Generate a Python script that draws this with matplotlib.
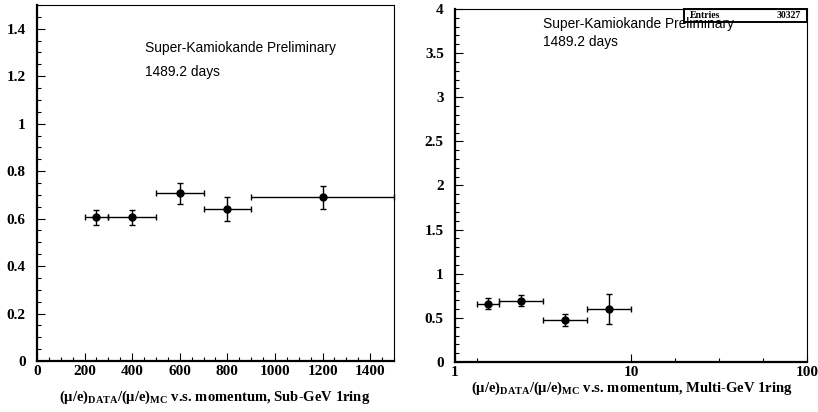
import numpy as np
import matplotlib.pyplot as plt
from matplotlib.ticker import MultipleLocator, FixedLocator, NullFormatter

plt.rcParams['font.family'] = 'Liberation Serif'
plt.rcParams['font.weight'] = 'bold'
plt.rcParams['mathtext.fontset'] = 'custom'
plt.rcParams['mathtext.rm'] = 'Liberation Serif:bold'
plt.rcParams['mathtext.it'] = 'Liberation Serif:bold'
plt.rcParams['mathtext.bf'] = 'Liberation Serif:bold'

# Sub-GeV 1ring (momentum in MeV/c)
sub_x = [250, 400, 600, 800, 1200]
sub_lo = [200, 300, 500, 700, 900]
sub_hi = [300, 500, 700, 900, 1500]
sub_y = [0.605, 0.605, 0.707, 0.639, 0.689]
sub_err = [0.033, 0.030, 0.044, 0.050, 0.049]

# Multi-GeV 1ring (momentum in GeV/c)
mul_x = [1.54, 2.37, 4.22, 7.5]
mul_lo = [1.33, 1.78, 3.16, 5.62]
mul_hi = [1.78, 3.16, 5.62, 10.0]
mul_y = [0.658, 0.696, 0.477, 0.598]
mul_err = [0.062, 0.058, 0.066, 0.168]

entries = 30327

fig = plt.figure(figsize=(8.18, 4.12), dpi=100)
ax1 = fig.add_axes([0.0452, 0.1238, 0.4364, 0.864])
ax2 = fig.add_axes([0.5562, 0.1214, 0.4309, 0.8568])


def style(ax):
    for s in ['top', 'right']:
        ax.spines[s].set_linewidth(0.8)
    for s in ['left', 'bottom']:
        ax.spines[s].set_linewidth(1.6)
    ax.tick_params(which='both', direction='in', top=False, right=False, width=0.8,
                   labelsize=11)
    ax.tick_params(which='major', length=6)
    ax.tick_params(which='minor', length=3)
    ax.tick_params(axis='y', pad=8)
    ax.tick_params(axis='x', pad=3)
    ax.xaxis.set_minor_formatter(NullFormatter())


def draw(ax, x, lo, hi, y, err):
    xerr = [np.array(x) - np.array(lo), np.array(hi) - np.array(x)]
    ax.errorbar(x, y, xerr=xerr, yerr=err, fmt='o', color='black', ms=5,
                elinewidth=1.0, capsize=2.5, capthick=1.0, clip_on=False)


draw(ax1, sub_x, sub_lo, sub_hi, sub_y, sub_err)
ax1.set_xlim(0, 1500)
ax1.set_ylim(0, 1.5)
ax1.xaxis.set_major_locator(MultipleLocator(200))
ax1.xaxis.set_minor_locator(MultipleLocator(50))
ax1.yaxis.set_major_locator(FixedLocator([0, 0.2, 0.4, 0.6, 0.8, 1.0, 1.2, 1.4]))
ax1.yaxis.set_minor_locator(MultipleLocator(0.05))
ax1.set_yticklabels(['0', '0.2', '0.4', '0.6', '0.8', '1', '1.2', '1.4'])
style(ax1)
ax1.text(0.302, 0.879, 'Super-Kamiokande Preliminary', transform=ax1.transAxes,
         family='Liberation Sans', weight='normal', fontsize=9.9, va='center')
ax1.text(0.302, 0.812, '1489.2 days', transform=ax1.transAxes,
         family='Liberation Sans', weight='normal', fontsize=9.9, va='center')
fig.text(0.262, 0.036, r'$(\mu/e)_{DATA}/(\mu/e)_{MC}$' + ' v.s. momentum, Sub-GeV 1ring',
         fontsize=10.5, ha='center', va='center')

draw(ax2, mul_x, mul_lo, mul_hi, mul_y, mul_err)
ax2.set_xscale('log')
ax2.set_xlim(1, 100)
ax2.set_ylim(0, 4)
ax2.xaxis.set_major_locator(FixedLocator([1, 10, 100]))
ax2.xaxis.set_minor_locator(FixedLocator([1.33, 17.8, 31.6, 56.2]))
ax2.set_xticklabels(['1', '10', '100'])
ax2.yaxis.set_major_locator(FixedLocator([0, 0.5, 1, 1.5, 2, 2.5, 3, 3.5, 4]))
ax2.yaxis.set_minor_locator(MultipleLocator(0.1))
ax2.set_yticklabels(['0', '0.5', '1', '1.5', '2', '2.5', '3', '3.5', '4'])
style(ax2)
ax2.text(0.25, 0.957, 'Super-Kamiokande Preliminary', transform=ax2.transAxes,
         family='Liberation Sans', weight='normal', fontsize=9.9, va='center')
ax2.text(0.25, 0.906, '1489.2 days', transform=ax2.transAxes,
         family='Liberation Sans', weight='normal', fontsize=9.9, va='center')
ax2.add_patch(plt.Rectangle((0.65, 0.963), 0.35, 0.037, transform=ax2.transAxes,
                            fill=False, lw=1.4, ec='black', clip_on=False))
ax2.text(0.667, 0.982, 'Entries', transform=ax2.transAxes, fontsize=7, va='center')
ax2.text(0.98, 0.982, str(entries), transform=ax2.transAxes, fontsize=7,
         va='center', ha='right')
fig.text(0.772, 0.058, r'$(\mu/e)_{DATA}/(\mu/e)_{MC}$' + ' v.s. momentum, Multi-GeV 1ring',
         fontsize=10.5, ha='center', va='center')

fig.savefig('out.png', dpi=100)
